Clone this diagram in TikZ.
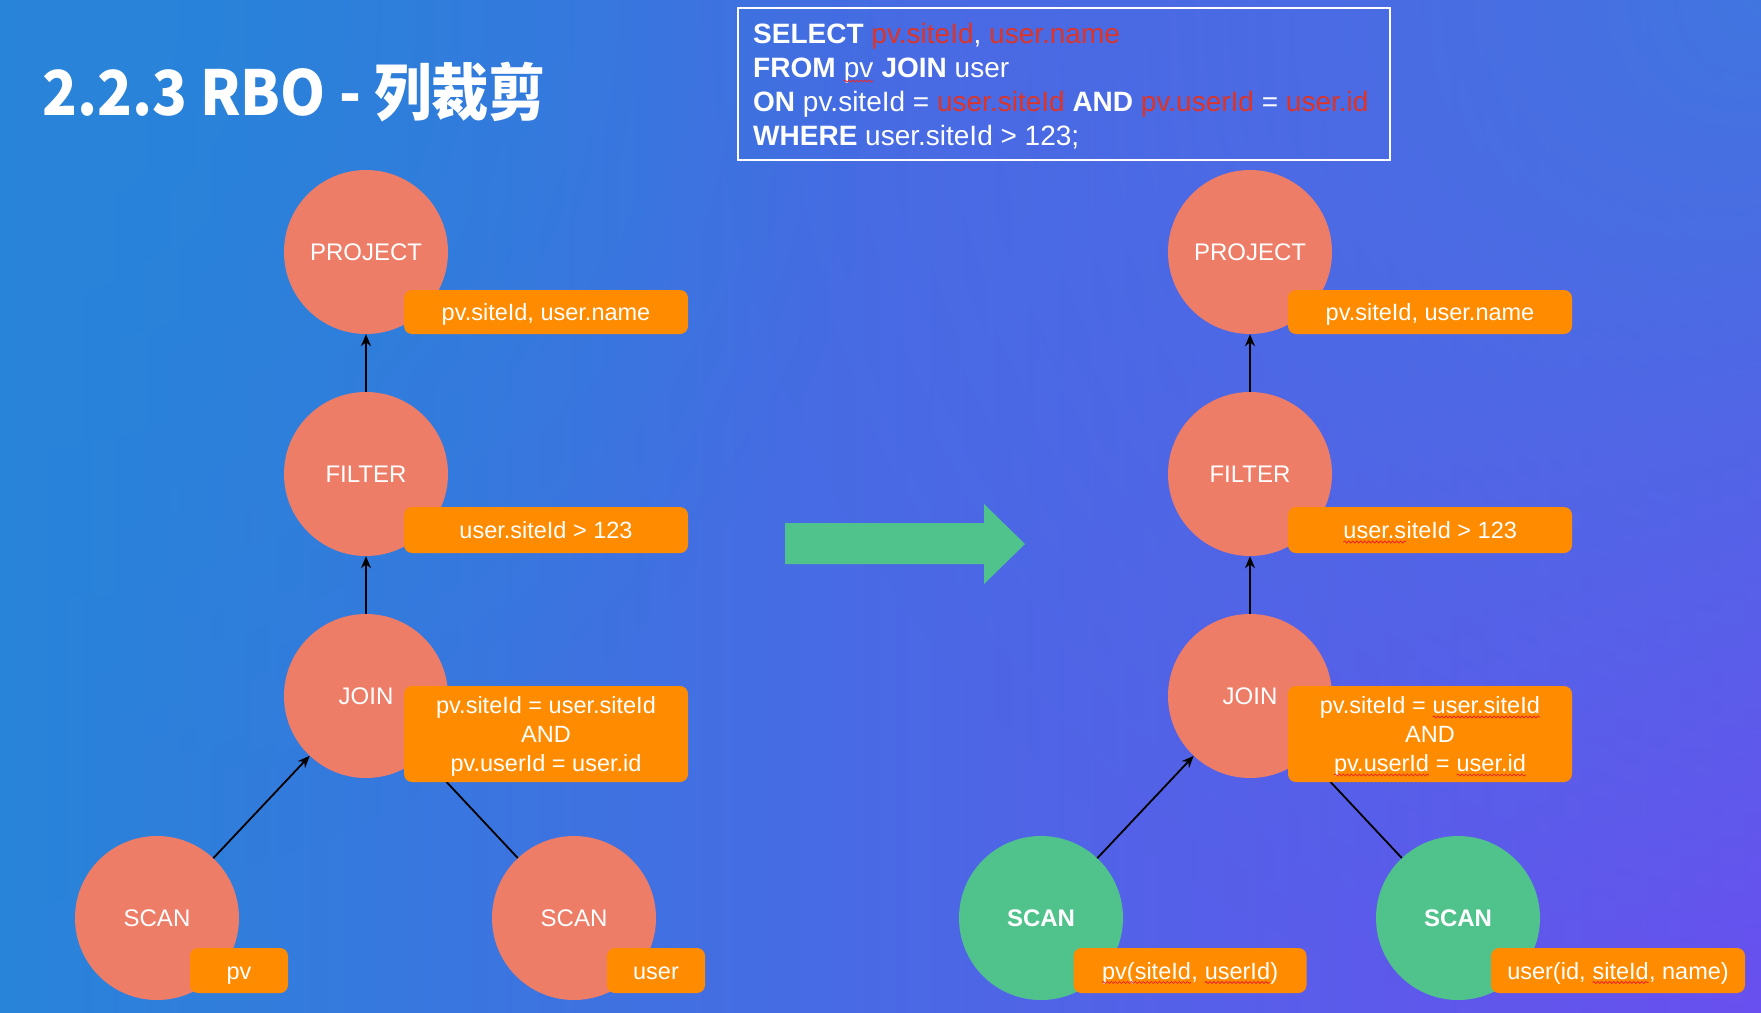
\documentclass[tikz,border=0pt]{standalone}
\usepackage{fontspec}
\setmainfont{Liberation Sans}
\newfontfamily\cjk{Noto Sans CJK SC}
\usetikzlibrary{arrows.meta,fadings,decorations.pathmorphing}
\definecolor{bgL}{RGB}{40,132,217}
\definecolor{bgR}{RGB}{107,78,240}
\definecolor{bgTR}{RGB}{60,122,222}
\definecolor{salmon}{RGB}{238,125,104}
\definecolor{mint}{RGB}{80,195,140}
\definecolor{labelorange}{RGB}{255,140,0}
\definecolor{sqlred}{RGB}{222,52,40}
\definecolor{squig}{RGB}{235,40,40}
\tikzfading[name=trfade, inner color=transparent!0, outer color=transparent!100]
\tikzset{
  opnode/.style={circle, fill=salmon, minimum size=164pt, inner sep=0pt, text=white,
    font=\fontsize{24}{28}\selectfont},
  scannew/.style={opnode, fill=mint, font=\fontsize{24}{28}\selectfont\bfseries},
  lbl/.style={rectangle, rounded corners=8pt, fill=labelorange, text=white, inner sep=0pt,
    align=center, font=\fontsize{23.5}{29}\selectfont, text height=17pt, text depth=0pt},
  lbl3/.style={lbl, text height=75pt, text depth=0pt},
  conn/.style={line width=1.8pt, -{Stealth[length=12pt,width=10pt]}},
  sqltext/.style={anchor=base west, inner sep=0pt, text=white, font=\fontsize{28}{34}\selectfont},
  sqline/.style={draw=squig, line width=0.8pt, sharp corners, decorate,
    decoration={snake, amplitude=1pt, segment length=4pt}}
}
\newcommand\sq[1]{\tikz[baseline=(sqw.base)]{\node[inner sep=0pt, outer sep=0pt, minimum width=0pt,
  minimum height=0pt, draw=none, fill=none, rectangle, sharp corners, anchor=base,
  text height=, text depth=] (sqw) {#1};
  \draw[sqline] ([yshift=-3.5pt]sqw.base west) -- ([yshift=-3.5pt]sqw.base east);}}
\newcommand\kw[1]{\textbf{#1}}
\newcommand\rd[1]{\textcolor{sqlred}{#1}}
\begin{document}
\begin{tikzpicture}[x=1pt, y=-1pt]
\useasboundingbox (0,0) rectangle (1761,1012);
% background
\shade[left color=bgL, right color=bgR] (0,0) rectangle (1761,1012);
\begin{scope}
\clip (0,0) rectangle (1761,1012);
\fill[bgTR, path fading=trfade, opacity=0.9] (1761,0) circle (1050);
\fill[bgL, path fading=trfade] (0,0) circle (900);
\end{scope}

% title
\node[anchor=base west, inner sep=0pt, text=white, font=\cjk\bfseries\fontsize{62}{70}\selectfont]
  (title) at (42,115) {\scalebox{0.925}[1]{2.2.3 RBO - 列裁剪}};

% SQL box
\node[draw=white, line width=2.5pt, minimum width=652pt, minimum height=152pt, inner sep=0pt]
  (sqlbox) at (1064,84) {};
\node[sqltext] (sql1) at (753,43.5) {\kw{SELECT} \rd{pv.siteId}, \rd{user.name}};
\node[sqltext] (sql2) at (753,77.5) {\kw{FROM} \sq{pv} \kw{JOIN} user};
\node[sqltext] (sql3) at (753,111.5) {\kw{ON} pv.siteId = \rd{user.siteId} \kw{AND} \rd{pv.userId} = \rd{user.id}};
\node[sqltext] (sql4) at (753,145) {\kw{WHERE} user.siteId > 123;};

% left tree
\node[opnode] (p1) at (366,252) {PROJECT};
\node[opnode] (f1) at (366,474) {FILTER};
\node[opnode] (j1) at (366,696) {JOIN};
\node[opnode] (sl1) at (157,918) {SCAN};
\node[opnode] (sr1) at (574,918) {SCAN};
\draw[conn] (f1) -- (p1);
\draw[conn] (j1) -- (f1);
\draw[conn] (sl1) -- (j1);
\draw[conn] (sr1) -- (j1);
\node[lbl, minimum width=284pt, minimum height=44pt] (lp1) at (546,312) {pv.siteId, user.name};
\node[lbl, minimum width=284pt, minimum height=46pt] (lf1) at (546,530) {user.siteId > 123};
\node[lbl3, minimum width=284pt, minimum height=96pt] (lj1) at (546,734) {pv.siteId = user.siteId\\AND\\pv.userId = user.id};
\node[lbl, minimum width=98pt, minimum height=45pt] (lsl1) at (239,970.5) {pv};
\node[lbl, minimum width=98pt, minimum height=45pt] (lsr1) at (656,970.5) {user};

% right tree
\node[opnode] (p2) at (1250,252) {PROJECT};
\node[opnode] (f2) at (1250,474) {FILTER};
\node[opnode] (j2) at (1250,696) {JOIN};
\node[scannew] (sl2) at (1041,918) {SCAN};
\node[scannew] (sr2) at (1458,918) {SCAN};
\draw[conn] (f2) -- (p2);
\draw[conn] (j2) -- (f2);
\draw[conn] (sl2) -- (j2);
\draw[conn] (sr2) -- (j2);
\node[lbl, minimum width=284pt, minimum height=44pt] (lp2) at (1430,312) {pv.siteId, user.name};
\node[lbl, minimum width=284pt, minimum height=46pt] (lf2) at (1430,530) {\sq{user.s}iteId > 123};
\node[lbl3, minimum width=284pt, minimum height=96pt] (lj2) at (1430,734) {pv.siteId = \sq{user.siteId}\\AND\\\sq{pv.userId} = \sq{user.id}};
\node[lbl, minimum width=233pt, minimum height=45pt] (lsl2) at (1190,970.5) {\sq{pv(siteId}, \sq{userId})};
\node[lbl, minimum width=254pt, minimum height=45pt] (lsr2) at (1618,970.5) {user(id, \sq{siteId}, name)};

% big green arrow
\fill[mint] (785,523) -- (984,523) -- (984,504) -- (1025,544) -- (984,584) -- (984,564) -- (785,564) -- cycle;
\end{tikzpicture}
\end{document}
